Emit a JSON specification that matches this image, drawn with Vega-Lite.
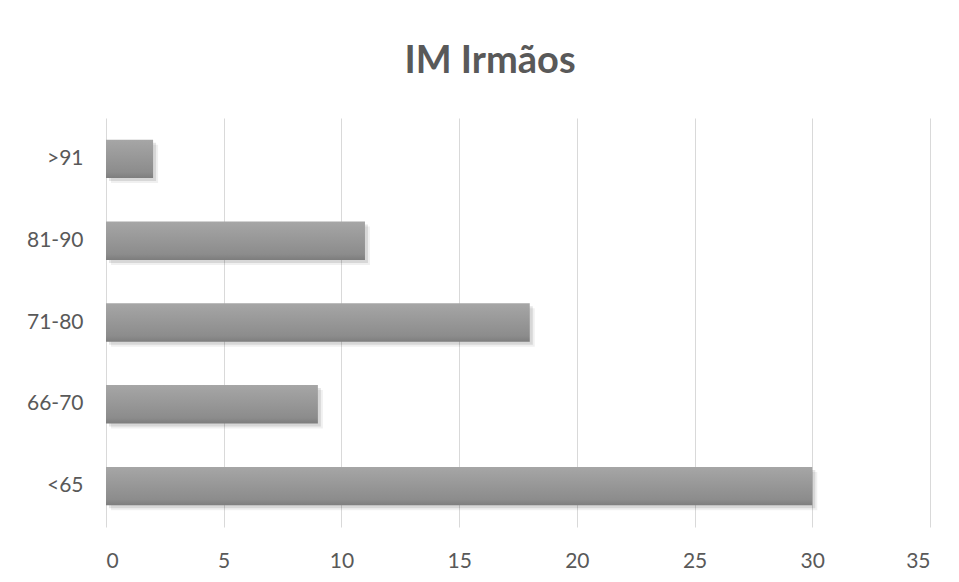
{
  "$schema": "https://vega.github.io/schema/vega-lite/v6.json",
  "autosize": "none",
  "width": 824,
  "height": 409,
  "padding": {"left": 106, "top": 118, "right": 29, "bottom": 55},
  "background": "white",
  "title": {
    "text": "IM Irmãos",
    "font": "Lato",
    "fontSize": 38,
    "fontWeight": "bold",
    "color": "#595959",
    "baseline": "alphabetic",
    "offset": 7,
    "dx": -28
  },
  "data": {
    "values": [
      {"faixa": ">91", "valor": 2},
      {"faixa": "81-90", "valor": 11},
      {"faixa": "71-80", "valor": 18},
      {"faixa": "66-70", "valor": 9},
      {"faixa": "<65", "valor": 30}
    ]
  },
  "encoding": {
    "y": {
      "field": "faixa",
      "type": "nominal",
      "sort": [">91", "81-90", "71-80", "66-70", "<65"],
      "scale": {"paddingInner": 0.53, "paddingOuter": 0.265},
      "axis": {
        "title": null,
        "domain": false,
        "ticks": false,
        "labelPadding": 23,
        "labelFont": "Lato",
        "labelFontSize": 21,
        "labelColor": "#595959"
      }
    },
    "x": {
      "field": "valor",
      "type": "quantitative",
      "scale": {"domain": [0, 35], "nice": false, "zero": true},
      "axis": {
        "title": null,
        "values": [0, 5, 10, 15, 20, 25, 30, 35],
        "domain": false,
        "ticks": false,
        "grid": true,
        "gridColor": "#d9d9d9",
        "gridWidth": 1,
        "labelPadding": 23,
        "labelFont": "Lato",
        "labelFontSize": 21,
        "labelColor": "#595959"
      }
    }
  },
  "layer": [
    {
      "mark": {"type": "bar", "color": "#000000", "opacity": 0.1, "xOffset": 3, "yOffset": 3}
    },
    {
      "mark": {"type": "bar", "color": "#000000", "opacity": 0.06, "xOffset": 5, "yOffset": 5}
    },
    {
      "mark": {
        "type": "bar",
        "color": {
          "gradient": "linear",
          "x1": 0, "y1": 0, "x2": 0, "y2": 1,
          "stops": [
            {"offset": 0, "color": "#a6a6a6"},
            {"offset": 0.85, "color": "#8c8c8c"},
            {"offset": 1, "color": "#7d7d7d"}
          ]
        }
      }
    }
  ],
  "config": {
    "view": {"stroke": null}
  }
}
